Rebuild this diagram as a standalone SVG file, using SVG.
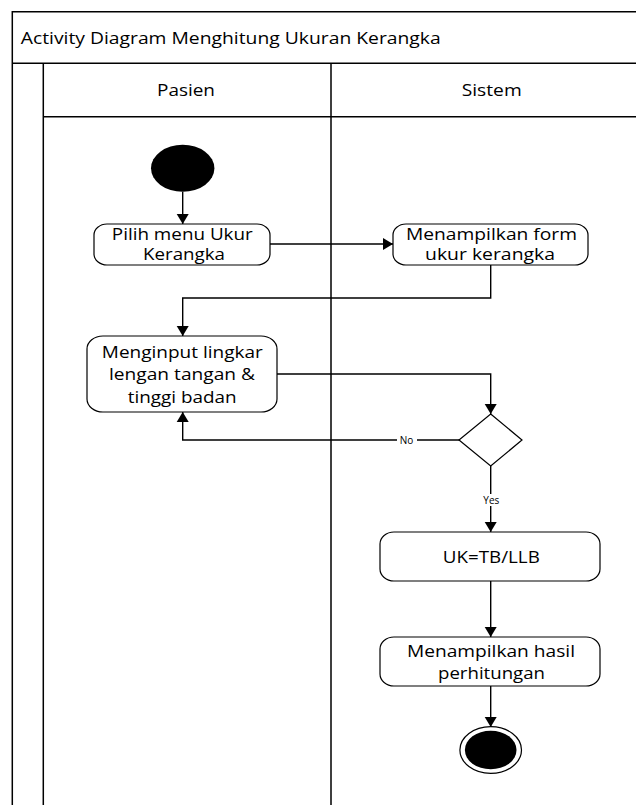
<svg xmlns="http://www.w3.org/2000/svg" width="636" height="805" viewBox="0 0 636 805">
<style>
.frame{fill:none;stroke:#000;stroke-width:1.5}
.box{fill:#fff;stroke:#000;stroke-width:1.2}
.t{font-family:"Open Sans","Liberation Sans",sans-serif;font-size:15.5px;fill:#000;text-anchor:middle}
.tl{font-family:"Open Sans","Liberation Sans",sans-serif;font-size:15.5px;fill:#000}
.s{font-family:"Open Sans","Liberation Sans",sans-serif;font-size:10px;fill:#000;text-anchor:middle}
.c{fill:none;stroke:#000;stroke-width:1.4}
</style>
<defs>
<marker id="arr" markerUnits="userSpaceOnUse" markerWidth="11" markerHeight="13" refX="10" refY="6.5" orient="auto" viewBox="0 0 11 13">
<path d="M0,0.5 L10,6.5 L0,12.5 z" fill="#000"/>
</marker>
</defs>
<rect width="636" height="805" fill="#fff"/>
<g id="pool">
<path class="frame" d="M12.3,805 V11.7 H640 M12.3,63.3 H640 M43.3,63.3 V805 M43.3,116.7 H640 M331,63.3 V805"/>
<text class="tl" x="20.7" y="44" textLength="420" lengthAdjust="spacingAndGlyphs">Activity Diagram Menghitung Ukuran Kerangka</text>
</g>
<g id="lane-pasien"><text class="t" x="186" y="95.5" textLength="58" lengthAdjust="spacingAndGlyphs">Pasien</text></g>
<g id="lane-sistem"><text class="t" x="491.7" y="95.5" textLength="60" lengthAdjust="spacingAndGlyphs">Sistem</text></g>
<g id="connectors">
<path class="c" marker-end="url(#arr)" d="M182.7,191.7 V224"/>
<path class="c" marker-end="url(#arr)" d="M270,244 H393"/>
<path class="c" marker-end="url(#arr)" d="M490.7,265 V298 H182.7 V336"/>
<path class="c" marker-end="url(#arr)" d="M277,374 H490.7 V414"/>
<path class="c" marker-end="url(#arr)" d="M459,440 H182.7 V412"/>
<path class="c" marker-end="url(#arr)" d="M490.7,466 V532"/>
<path class="c" marker-end="url(#arr)" d="M490.7,581 V637"/>
<path class="c" marker-end="url(#arr)" d="M490.7,686 V727"/>
<rect x="397" y="434" width="20" height="12" fill="#fff"/>
<text class="s" x="406.5" y="443.5">No</text>
<rect x="480" y="494" width="22" height="12" fill="#fff"/>
<text class="s" x="491.3" y="503.5">Yes</text>
</g>
<g id="start"><ellipse cx="182.7" cy="168.3" rx="31.7" ry="23.5" fill="#000"/></g>
<g id="pilih">
<rect class="box" x="94" y="224" width="176" height="41" rx="13" ry="11"/>
<text class="t" x="182.3" y="240" textLength="141" lengthAdjust="spacingAndGlyphs">Pilih menu Ukur</text>
<text class="t" x="184" y="260" textLength="82" lengthAdjust="spacingAndGlyphs">Kerangka</text>
</g>
<g id="form">
<rect class="box" x="393" y="224" width="195" height="41" rx="13" ry="11"/>
<text class="t" x="491.5" y="240" textLength="171" lengthAdjust="spacingAndGlyphs">Menampilkan form</text>
<text class="t" x="490" y="260" textLength="130" lengthAdjust="spacingAndGlyphs">ukur kerangka</text>
</g>
<g id="input">
<rect class="box" x="87" y="336" width="190" height="76" rx="16" ry="13"/>
<text class="t" x="182.3" y="358.3" textLength="161" lengthAdjust="spacingAndGlyphs">Menginput lingkar</text>
<text class="t" x="182" y="380.3" textLength="146" lengthAdjust="spacingAndGlyphs">lengan tangan &amp;</text>
<text class="t" x="182.2" y="402.5" textLength="109" lengthAdjust="spacingAndGlyphs">tinggi badan</text>
</g>
<g id="decision"><path class="box" d="M490.7,414 L522,440 L490.7,466 L459,440 z"/></g>
<g id="uk">
<rect class="box" x="380" y="532" width="220" height="49" rx="14" ry="12"/>
<text class="t" x="491.3" y="562.7" textLength="97" lengthAdjust="spacingAndGlyphs">UK=TB/LLB</text>
</g>
<g id="hasil">
<rect class="box" x="380" y="637" width="220" height="49" rx="14" ry="12"/>
<text class="t" x="491" y="656.7" textLength="168" lengthAdjust="spacingAndGlyphs">Menampilkan hasil</text>
<text class="t" x="491.5" y="679" textLength="107" lengthAdjust="spacingAndGlyphs">perhitungan</text>
</g>
<g id="end">
<ellipse cx="490.7" cy="750" rx="30.8" ry="23.3" fill="#fff" stroke="#000" stroke-width="1.2"/>
<ellipse cx="490.7" cy="750" rx="25.8" ry="19.3" fill="#000"/>
</g>
</svg>
